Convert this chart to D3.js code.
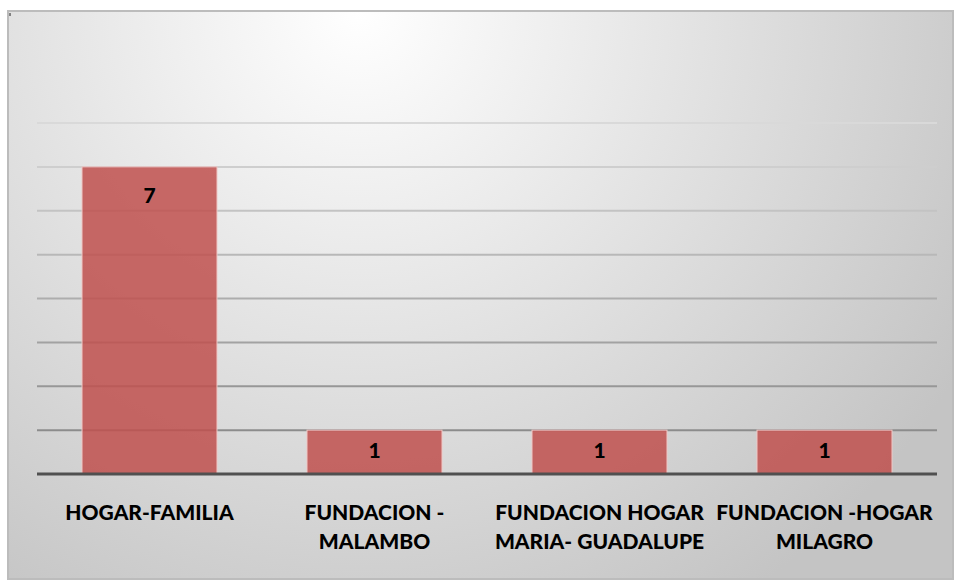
<!DOCTYPE html>
<html>
<head>
<meta charset="utf-8">
<script src="https://cdn.jsdelivr.net/npm/d3@7"></script>
<style>
  body { margin: 0; background: #fff; }
  svg { display: block; }
</style>
</head>
<body>
<svg id="chart"></svg>
<script>
// Data
const categories = [
  ["HOGAR-FAMILIA"],
  ["FUNDACION -", "MALAMBO"],
  ["FUNDACION HOGAR", "MARIA- GUADALUPE"],
  ["FUNDACION -HOGAR", "MILAGRO"]
];
const values = [7, 1, 1, 1];
const gridTicks = [1, 2, 3, 4, 5, 6, 7, 8];

const width = 954;
const height = 580;
const margin = { top: 123, right: 16, bottom: 106, left: 37 };

const svg = d3.select("#chart")
  .attr("width", width)
  .attr("height", height);

// Background gradient
const defs = svg.append("defs");
const bg = defs.append("radialGradient")
  .attr("id", "bg")
  .attr("gradientUnits", "userSpaceOnUse")
  .attr("cx", 360).attr("cy", 10).attr("r", 700);
bg.append("stop").attr("offset", "0%").attr("stop-color", "#ffffff");
bg.append("stop").attr("offset", "100%").attr("stop-color", "#c4c4c4");

svg.append("rect")
  .attr("x", 8).attr("y", 11)
  .attr("width", width - 9).attr("height", height - 12)
  .attr("fill", "url(#bg)")
  .attr("stroke", "#bcbcbc")
  .attr("stroke-width", 2);

// tiny mark in the corner
svg.append("line")
  .attr("x1", 10).attr("x2", 10).attr("y1", 13).attr("y2", 16)
  .attr("stroke", "#222").attr("stroke-width", 1);

// Scales
const x = d3.scaleBand()
  .domain(d3.range(categories.length))
  .range([margin.left, width - margin.right - 1])
  .paddingInner(0.4)
  .paddingOuter(0.2);

const y = d3.scaleLinear()
  .domain([0, 8])
  .range([474, 123]);

const gridColor = d3.scaleLinear()
  .domain([8, 1])
  .range(["#d9d9d9", "#8c8c8c"]);

// Gridlines
svg.append("g")
  .selectAll("line")
  .data(gridTicks)
  .join("line")
  .attr("x1", margin.left)
  .attr("x2", width - margin.right - 1)
  .attr("y1", d => y(d))
  .attr("y2", d => y(d))
  .attr("stroke", d => gridColor(d))
  .attr("stroke-width", 2);

// Bars
svg.append("g")
  .selectAll("rect")
  .data(values)
  .join("rect")
  .attr("x", (d, i) => x(i))
  .attr("y", d => y(d))
  .attr("width", x.bandwidth())
  .attr("height", d => y(0) - y(d))
  .attr("fill", "#c0504d")
  .attr("fill-opacity", 0.85)
  .attr("stroke", "#f0c8c6")
  .attr("stroke-width", 1);

// Baseline axis
svg.append("line")
  .attr("x1", margin.left)
  .attr("x2", width - margin.right - 1)
  .attr("y1", y(0))
  .attr("y2", y(0))
  .attr("stroke", "#505050")
  .attr("stroke-width", 3);

const font = "Lato, 'Open Sans', sans-serif";

// Value labels (inside end, or centred in short bars)
svg.append("g")
  .selectAll("text")
  .data(values)
  .join("text")
  .attr("x", (d, i) => x(i) + x.bandwidth() / 2)
  .attr("y", d => Math.min(y(d) + 29, (y(d) + y(0)) / 2 - 1) + 7)
  .attr("text-anchor", "middle")
  .style("font-family", font)
  .style("font-weight", "900")
  .style("font-size", "21px")
  .attr("fill", "#000")
  .text(d => d);

// Category labels
const labels = svg.append("g")
  .selectAll("text")
  .data(categories)
  .join("text")
  .attr("x", (d, i) => x(i) + x.bandwidth() / 2)
  .attr("y", 520)
  .attr("text-anchor", "middle")
  .style("font-family", font)
  .style("font-weight", "900")
  .style("font-size", "21px")
  .attr("fill", "#000");

labels.selectAll("tspan")
  .data(d => d)
  .join("tspan")
  .attr("x", function() { return d3.select(this.parentNode).attr("x"); })
  .attr("dy", (d, i) => i === 0 ? 0 : 29)
  .text(d => d);
</script>
</body>
</html>
